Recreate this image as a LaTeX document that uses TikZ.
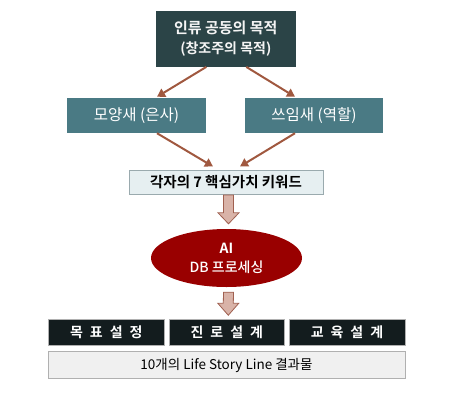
\documentclass[tikz,border=0pt]{standalone}
\usepackage{fontspec}
\setmainfont{Noto Sans CJK KR}[BoldFont={Noto Sans CJK KR Bold}]
\newfontfamily\kwide{Noto Sans CJK KR Bold}[WordSpace=2.2]
\newfontfamily\kmed{Noto Sans CJK KR Medium}
\usetikzlibrary{arrows.meta,calc}
\definecolor{topfill}{HTML}{2B4447}
\definecolor{tealfill}{HTML}{4A7A84}
\definecolor{kwfill}{HTML}{E6EFF1}
\definecolor{kwdraw}{HTML}{9AAAAE}
\definecolor{arrowc}{HTML}{A0583F}
\definecolor{barfill}{HTML}{D9B3A8}
\definecolor{bardraw}{HTML}{A06050}
\definecolor{ellfill}{HTML}{990000}
\definecolor{darkfill}{HTML}{131C1E}
\definecolor{resfill}{HTML}{F0F0F0}
\definecolor{resdraw}{HTML}{B0B0B0}
\tikzset{
  boxbase/.style={rectangle, inner sep=0pt, align=center},
  topbox/.style={boxbase, fill=topfill, text=white!92!gray, font=\bfseries\fontsize{15}{21}\selectfont},
  tealbox/.style={boxbase, fill=tealfill, text=white, font=\fontsize{15.5}{18}\selectfont},
  kwbox/.style={boxbase, fill=kwfill, draw=kwdraw, line width=1pt, font=\bfseries\fontsize{14.5}{16}\selectfont},
  ellbox/.style={ellipse, fill=ellfill, inner sep=0pt, text=white, align=center},
  darkbox/.style={boxbase, fill=darkfill, draw=resdraw, line width=1pt, text=white, font=\kwide\fontsize{14}{16}\selectfont},
  resbox/.style={boxbase, fill=resfill, draw=resdraw, line width=1pt, font=\fontsize{13.5}{15}\selectfont},
  conn/.style={draw=arrowc, line width=2pt, -{Triangle[length=8pt,width=9pt]}},
  blockarrow/.style={fill=barfill, draw=bardraw, line width=0.8pt, line join=miter}
}
\usetikzlibrary{shapes.geometric}
\begin{document}
\begin{tikzpicture}[x=1pt,y=-1pt]
\useasboundingbox (0,0) rectangle (450,400);
\node[topbox, minimum width=139.5pt, minimum height=56pt] (top) at (225.8,38.7) {인류 공동의 목적\\[-1pt]{\fontsize{14}{16}\selectfont (창조주의 목적)}};
\node[tealbox, minimum width=139pt, minimum height=35pt] (left) at (136.5,115.5) {모양새 (은사)};
\node[tealbox, minimum width=138pt, minimum height=35pt] (right) at (314,115.5) {쓰임새 (역할)};
\node[kwbox, minimum width=194pt, minimum height=24pt] (kw) at (226,182) {각자의 7 핵심가치 키워드};
\node[ellbox, minimum width=151pt, minimum height=58pt] (ell) at (226.5,258) {{\bfseries\fontsize{14}{16}\selectfont AI}\\[7pt]{\kmed\fontsize{14}{16}\selectfont DB 프로세싱}};
\node[darkbox, minimum width=116pt, minimum height=26.5pt] (b1) at (106.3,332.5) {목 표 설 정};
\node[darkbox, minimum width=115pt, minimum height=26.5pt] (b2) at (226.8,332.5) {진 로 설 계};
\node[darkbox, minimum width=116pt, minimum height=26.5pt] (b3) at (347,332.5) {교 육 설 계};
\node[resbox, minimum width=357pt, minimum height=27pt] (res) at (226.5,365) {10개의 Life Story Line 결과물};

\draw[conn] ([xshift=-19.5pt]top.south) -- ([xshift=20.5pt,yshift=1pt]left.north);
\draw[conn] ([xshift=20.5pt]top.south) -- ([xshift=-19pt,yshift=1pt]right.north);
\draw[conn] ([xshift=20.5pt]left.south) -- ([xshift=-13pt,yshift=3pt]kw.north);
\draw[conn] ([xshift=-19pt]right.south) -- ([xshift=14pt,yshift=3pt]kw.north);

% block arrows
\coordinate (a1) at ([xshift=2.5pt,yshift=-0.5pt]kw.south);
\coordinate (a1t) at ([xshift=2pt,yshift=5pt]ell.north);
\draw[blockarrow] ($(a1)+(-5,0)$) -- ($(a1)+(5,0)$) -- ($(a1t)+(5,-11)$) -- ($(a1t)+(10.5,-11)$) -- (a1t) -- ($(a1t)+(-10.5,-11)$) -- ($(a1t)+(-5,-11)$) -- cycle;
\coordinate (a2) at ([xshift=2pt,yshift=-5pt]ell.south);
\coordinate (a2t) at ([xshift=1.5pt,yshift=3.5pt]b2.north);
\draw[blockarrow] ($(a2)+(-5,0)$) -- ($(a2)+(5,0)$) -- ($(a2t)+(5,-12)$) -- ($(a2t)+(10.5,-12)$) -- (a2t) -- ($(a2t)+(-10.5,-12)$) -- ($(a2t)+(-5,-12)$) -- cycle;
\end{tikzpicture}
\end{document}
